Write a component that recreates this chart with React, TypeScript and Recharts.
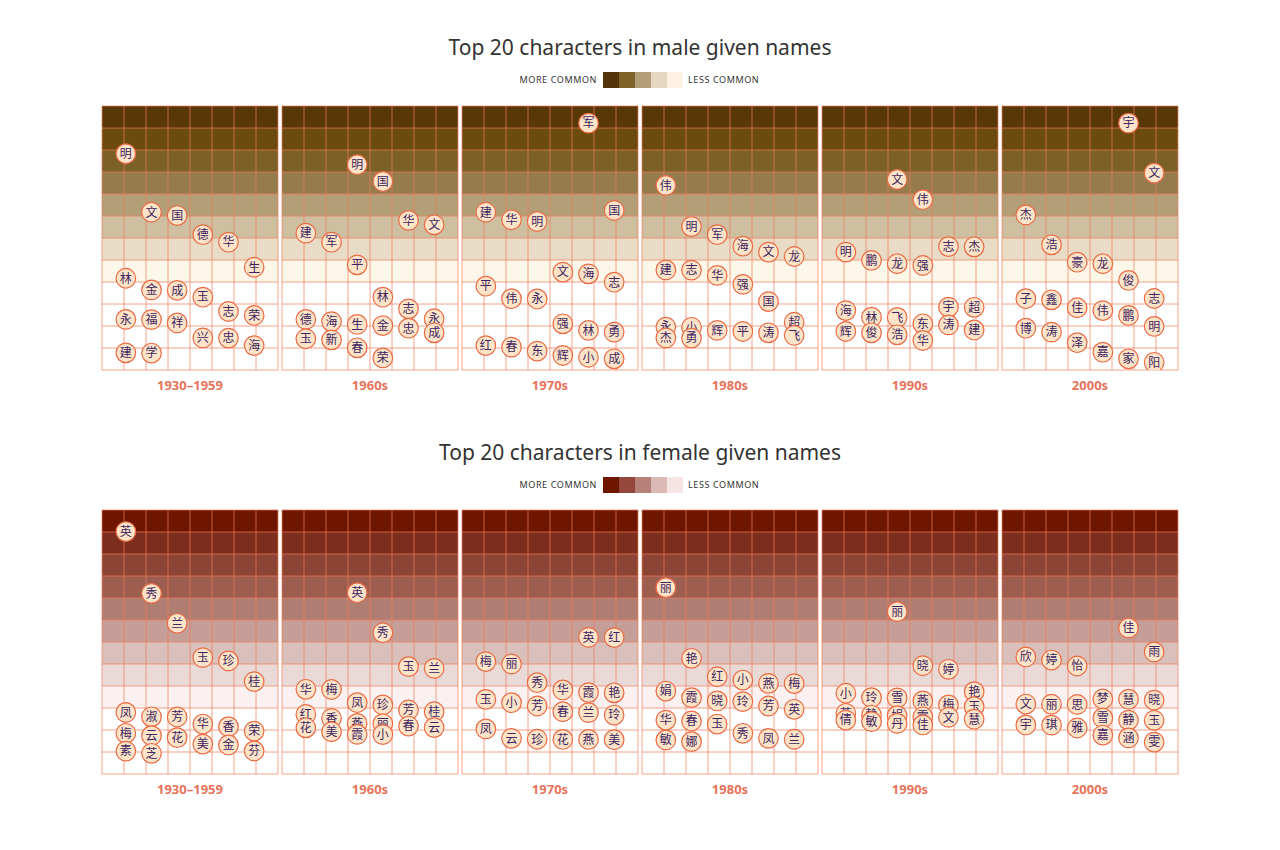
import { ScatterChart, Scatter, XAxis, YAxis, ReferenceArea, ReferenceLine } from "recharts";

const periods = ["1930–1959", "1960s", "1970s", "1980s", "1990s", "2000s"];

// male top 20 characters per period, in rank order, with their position on the frequency scale
const male1930Chars = ["明", "文", "国", "德", "华", "生", "林", "金", "成", "玉", "志", "荣", "永", "福", "祥", "兴", "忠", "海", "建", "学"];
const male1930Vals = [9.83, 7.17, 7.02, 6.15, 5.81, 4.67, 4.17, 3.64, 3.62, 3.31, 2.66, 2.48, 2.3, 2.29, 2.14, 1.46, 1.45, 1.11, 0.78, 0.77];
const male1960Chars = ["明", "国", "华", "文", "建", "军", "平", "林", "志", "永", "德", "海", "生", "金", "忠", "成", "玉", "新", "春", "荣"];
const male1960Vals = [9.33, 8.57, 6.8, 6.6, 6.22, 5.81, 4.78, 3.31, 2.78, 2.33, 2.3, 2.2, 2.07, 2.02, 1.9, 1.69, 1.42, 1.37, 1.01, 0.55];
const male1970Chars = ["军", "国", "建", "华", "明", "文", "海", "志", "平", "伟", "永", "强", "林", "勇", "红", "春", "东", "辉", "小", "成"];
const male1970Vals = [11.22, 7.25, 7.17, 6.83, 6.75, 4.45, 4.37, 3.99, 3.81, 3.24, 3.23, 2.1, 1.8, 1.72, 1.11, 1.04, 0.86, 0.66, 0.58, 0.51];
const male1980Chars = ["伟", "明", "军", "海", "文", "龙", "建", "志", "华", "强", "国", "超", "永", "小", "辉", "平", "涛", "飞", "杰", "勇"];
const male1980Vals = [8.39, 6.52, 6.15, 5.63, 5.36, 5.16, 4.55, 4.54, 4.3, 3.89, 3.11, 2.17, 1.95, 1.94, 1.8, 1.75, 1.69, 1.57, 1.46, 1.45];
const male1990Chars = ["文", "伟", "志", "杰", "明", "鹏", "龙", "强", "宇", "超", "海", "林", "飞", "东", "涛", "建", "辉", "俊", "浩", "华"];
const male1990Vals = [8.66, 7.74, 5.61, 5.6, 5.36, 4.98, 4.83, 4.75, 2.86, 2.85, 2.7, 2.4, 2.39, 2.1, 2.05, 1.82, 1.75, 1.69, 1.6, 1.34];
const male2000Chars = ["宇", "文", "杰", "浩", "豪", "龙", "俊", "志", "子", "鑫", "佳", "伟", "鹏", "明", "博", "涛", "泽", "嘉", "家", "阳"];
const male2000Vals = [11.22, 8.95, 7.05, 5.69, 4.9, 4.83, 4.07, 3.25, 3.24, 3.19, 2.83, 2.7, 2.48, 1.98, 1.9, 1.72, 1.24, 0.81, 0.51, 0.35];

// female
const female1930Chars = ["英", "秀", "兰", "玉", "珍", "桂", "凤", "淑", "芳", "华", "香", "荣", "梅", "云", "花", "美", "金", "芬", "素", "芝"];
const female1930Vals = [11.02, 8.21, 6.85, 5.29, 5.14, 4.2, 2.8, 2.6, 2.59, 2.27, 2.15, 1.95, 1.85, 1.74, 1.65, 1.36, 1.32, 1.05, 1.04, 0.94];
const female1960Chars = ["英", "秀", "玉", "兰", "华", "梅", "凤", "珍", "芳", "桂", "红", "香", "燕", "丽", "春", "云", "花", "美", "霞", "小"];
const female1960Vals = [8.24, 6.42, 4.88, 4.8, 3.85, 3.84, 3.24, 3.14, 2.91, 2.83, 2.71, 2.53, 2.3, 2.29, 2.18, 2.11, 2.1, 1.92, 1.8, 1.79];
const female1970Chars = ["英", "红", "梅", "丽", "秀", "华", "霞", "艳", "玉", "小", "芳", "春", "兰", "玲", "凤", "云", "珍", "花", "燕", "美"];
const female1970Vals = [6.21, 6.2, 5.11, 5.0, 4.15, 3.82, 3.7, 3.69, 3.39, 3.24, 3.09, 2.83, 2.79, 2.68, 2.05, 1.62, 1.58, 1.57, 1.57, 1.56];
const female1980Chars = ["丽", "艳", "红", "小", "燕", "梅", "娟", "霞", "晓", "玲", "芳", "英", "华", "春", "玉", "秀", "凤", "兰", "敏", "娜"];
const female1980Vals = [8.47, 5.26, 4.42, 4.27, 4.12, 4.11, 3.77, 3.47, 3.32, 3.29, 3.09, 2.94, 2.45, 2.41, 2.27, 1.85, 1.62, 1.58, 1.55, 1.47];
const female1990Chars = ["丽", "晓", "婷", "艳", "小", "玲", "雪", "燕", "梅", "玉", "芳", "静", "娟", "霞", "文", "慧", "倩", "敏", "丹", "佳"];
const female1990Vals = [7.38, 4.92, 4.76, 3.74, 3.67, 3.47, 3.46, 3.32, 3.14, 3.06, 2.76, 2.68, 2.65, 2.6, 2.58, 2.49, 2.45, 2.38, 2.3, 2.23];
const female2000Chars = ["佳", "雨", "欣", "婷", "怡", "梦", "慧", "晓", "文", "丽", "思", "雪", "静", "玉", "宇", "琪", "雅", "嘉", "涵", "雯"];
const female2000Vals = [6.64, 5.55, 5.32, 5.18, 4.91, 3.41, 3.4, 3.36, 3.18, 3.17, 3.16, 2.55, 2.45, 2.44, 2.23, 2.22, 2.09, 1.77, 1.64, 1.45];

// band fills from the top row down
const maleBands = ["#573806", "#6b4c0e", "#7b6027", "#967c4d", "#b29f78", "#cdbf9f", "#e8dcc7", "#fdf7ea"];
const femaleBands = ["#6f1600", "#7d2d1d", "#8c4535", "#9d5e50", "#b07d72", "#c49e97", "#d9c0bb", "#e9d9d7", "#fbf1f1"];
const maleLegend = ["#54350a", "#7e6228", "#b29f78", "#e6d7c0", "#fdf1e3"];
const femaleLegend = ["#6f1600", "#94473a", "#b78177", "#dbb9b4", "#f5e4e3"];

const ROWS = 12;
const COLS = 8;
const PANEL_W = 176;
const PANEL_H = 264;
const GRID = "#f07a58";
// six character slots across the panel; the x domain is padded so slots sit inside the 8-column grid
const X_MIN = -0.93;
const X_MAX = 5.93;
const gridX = (k: number) => X_MIN + (k * (X_MAX - X_MIN)) / COLS;

const malePanels = [
  [male1930Chars, male1930Vals],
  [male1960Chars, male1960Vals],
  [male1970Chars, male1970Vals],
  [male1980Chars, male1980Vals],
  [male1990Chars, male1990Vals],
  [male2000Chars, male2000Vals],
];
const femalePanels = [
  [female1930Chars, female1930Vals],
  [female1960Chars, female1960Vals],
  [female1970Chars, female1970Vals],
  [female1980Chars, female1980Vals],
  [female1990Chars, female1990Vals],
  [female2000Chars, female2000Vals],
];

function CharBubble(props: any) {
  const { cx, cy, payload } = props;
  if (cx == null || cy == null) return null;
  return (
    <g>
      <circle cx={cx} cy={cy} r={9.8} fill="#fde4c8" stroke="#ea6a45" strokeWidth={1.2} />
      <text
        x={cx}
        y={cy + 4.3}
        textAnchor="middle"
        fontSize={12}
        fill="#3b2460"
        fontFamily="'Noto Sans CJK SC', sans-serif"
      >
        {payload.ch}
      </text>
    </g>
  );
}

function Panel({ chars, vals, index, bands, left, top }: any) {
  // characters wrap across six slots, continuing the sequence from panel to panel
  const data = chars.map((ch: string, i: number) => ({
    ch,
    col: (index * 20 + i) % 6,
    v: vals[i],
  }));
  return (
    <div style={{ position: "absolute", left: left - 1, top: top - 1 }}>
      <ScatterChart width={PANEL_W + 2} height={PANEL_H + 2} margin={{ top: 1, right: 1, bottom: 1, left: 1 }}>
        <XAxis type="number" dataKey="col" domain={[X_MIN, X_MAX]} allowDataOverflow hide />
        <YAxis type="number" dataKey="v" domain={[0, ROWS]} allowDataOverflow hide />
        {bands.map((c: string, i: number) => (
          <ReferenceArea
            key={"b" + i}
            x1={X_MIN}
            x2={X_MAX}
            y1={ROWS - i - 1}
            y2={ROWS - i}
            fill={c}
            fillOpacity={1}
            stroke="none"
            ifOverflow="visible"
          />
        ))}
        {Array.from({ length: COLS + 1 }, (_, i) => (
          <ReferenceLine key={"vx" + i} x={gridX(i)} stroke={GRID} strokeOpacity={0.7} ifOverflow="visible" />
        ))}
        {Array.from({ length: ROWS + 1 }, (_, i) => (
          <ReferenceLine key={"hy" + i} y={i} stroke={GRID} strokeOpacity={0.7} ifOverflow="visible" />
        ))}
        <Scatter data={data} shape={CharBubble} isAnimationActive={false} />
      </ScatterChart>
      <div
        style={{
          position: "absolute",
          left: 0,
          width: PANEL_W + 2,
          top: PANEL_H + 7,
          textAlign: "center",
          fontFamily: "'Noto Sans', sans-serif",
          fontWeight: 700,
          fontSize: 13,
          color: "#e8735a",
        }}
      >
        {periods[index]}
      </div>
    </div>
  );
}

function Header({ title, top, swatches }: any) {
  const legendText = {
    fontFamily: "'Noto Sans', sans-serif",
    fontSize: 9,
    letterSpacing: 0.6,
    color: "#333",
    position: "absolute" as const,
    top: top + 38,
    lineHeight: "16px",
  };
  return (
    <>
      <div
        style={{
          position: "absolute",
          left: 0,
          width: 1280,
          top,
          textAlign: "center",
          fontFamily: "'Noto Sans', sans-serif",
          fontSize: 21,
          color: "#333",
          lineHeight: "26px",
        }}
      >
        {title}
      </div>
      <div style={{ ...legendText, right: 1280 - 597, textAlign: "right" }}>MORE COMMON</div>
      <div style={{ position: "absolute", left: 603, top: top + 38, display: "flex" }}>
        {swatches.map((c: string) => (
          <div key={c} style={{ width: 16, height: 16, background: c }} />
        ))}
      </div>
      <div style={{ ...legendText, left: 688 }}>LESS COMMON</div>
    </>
  );
}

export default function App() {
  return (
    <div style={{ position: "absolute", left: 0, top: 0, width: 1280, height: 850, background: "#fff" }}>
      <Header title="Top 20 characters in male given names" top={34} swatches={maleLegend} />
      {malePanels.map(([chars, vals], i) => (
        <Panel key={"m" + i} chars={chars} vals={vals} index={i} bands={maleBands} left={102 + i * 180} top={106} />
      ))}
      <Header title="Top 20 characters in female given names" top={439} swatches={femaleLegend} />
      {femalePanels.map(([chars, vals], i) => (
        <Panel key={"f" + i} chars={chars} vals={vals} index={i} bands={femaleBands} left={102 + i * 180} top={510} />
      ))}
    </div>
  );
}
